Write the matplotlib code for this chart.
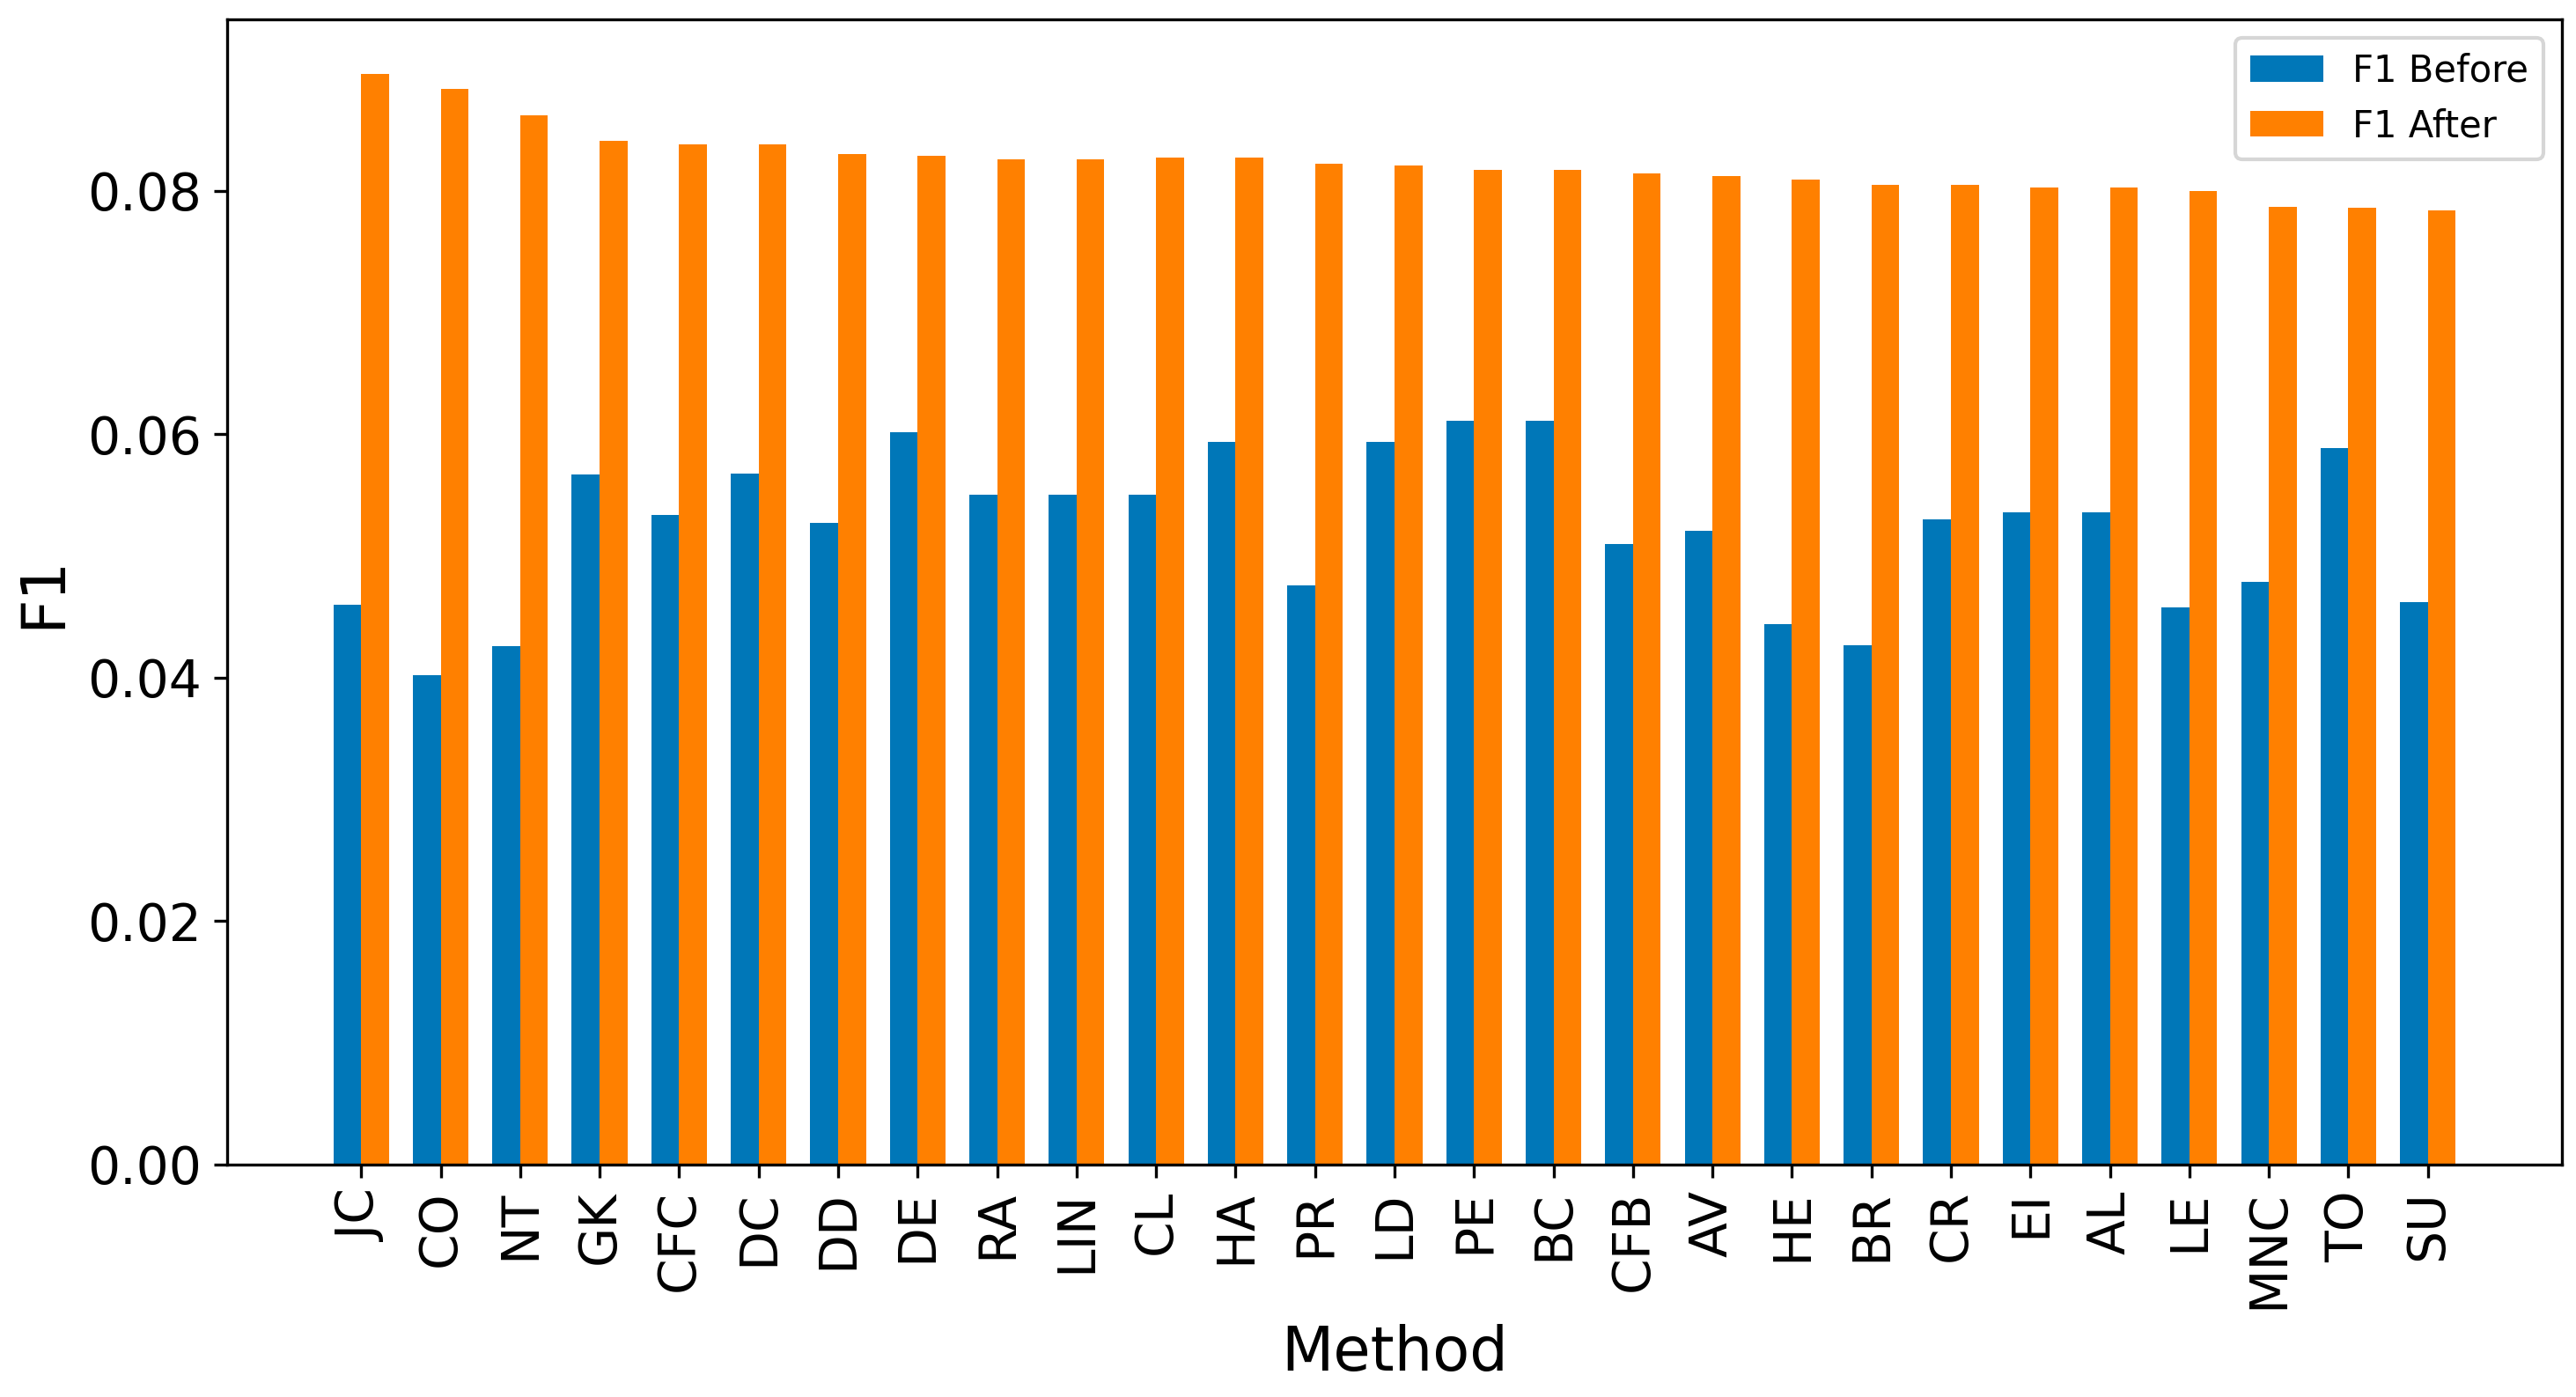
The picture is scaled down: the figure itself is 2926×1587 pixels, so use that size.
import numpy as np
import matplotlib
matplotlib.use("Agg")
import matplotlib.pyplot as plt

methods = ['JC', 'CO', 'NT', 'GK', 'CFC', 'DC', 'DD', 'DE', 'RA', 'LIN',
           'CL', 'HA', 'PR', 'LD', 'PE', 'BC', 'CFB', 'AV', 'HE', 'BR',
           'CR', 'EI', 'AL', 'LE', 'MNC', 'TO', 'SU']

f1_before = [0.0460, 0.0402, 0.0426, 0.0567, 0.0534, 0.0568, 0.0527, 0.0602,
             0.0550, 0.0550, 0.0550, 0.0594, 0.0476, 0.0594, 0.0611, 0.0611,
             0.0510, 0.0521, 0.0444, 0.0427, 0.0530, 0.0536, 0.0536, 0.0458,
             0.0479, 0.0589, 0.0462]

f1_after = [0.0896, 0.0884, 0.0862, 0.0841, 0.0838, 0.0838, 0.0830, 0.0829,
            0.0826, 0.0826, 0.0827, 0.0827, 0.0822, 0.0821, 0.0817, 0.0817,
            0.0814, 0.0812, 0.0809, 0.0805, 0.0805, 0.0803, 0.0803, 0.0800,
            0.0787, 0.0786, 0.0784]

x = np.arange(len(methods))
width = 0.35

fig = plt.figure(figsize=(2926 / 300, 1587 / 300), dpi=300)
ax = fig.add_axes([0.0882, 0.1664, 0.9063, 0.8197])

ax.bar(x - width / 2, f1_before, width, color='#0077b8', label='F1 Before')
ax.bar(x + width / 2, f1_after, width, color='#ff8000', label='F1 After')

ax.set_xticks(x)
ax.set_xticklabels(methods, rotation=90)
ax.tick_params(axis='both', labelsize=14)
ax.set_xlabel('Method', fontsize=16.5)
ax.set_ylabel('F1', fontsize=16.5)
ax.legend(loc='upper right', fontsize=10)

fig.savefig('out.png', dpi=300)
